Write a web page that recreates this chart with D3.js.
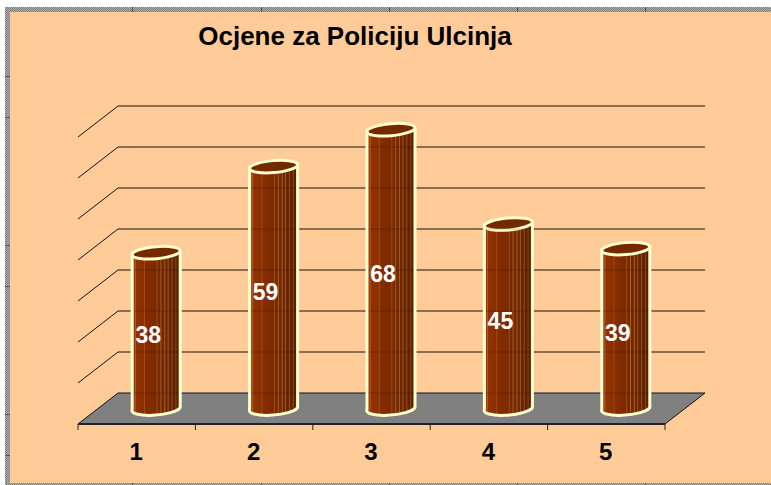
<!DOCTYPE html>
<html>
<head>
<meta charset="utf-8">
<script src="https://cdnjs.cloudflare.com/ajax/libs/d3/7.8.5/d3.min.js"></script>
<style>
html, body { margin: 0; padding: 0; background: #fff; }
svg { display: block; }
</style>
</head>
<body>
<div id="chart"></div>
<script>
var categories = ["1", "2", "3", "4", "5"];
var values = [38, 59, 68, 45, 39];
var grid_values = [0, 10, 20, 30, 40, 50, 60, 70];

// light streaks on the cylinders, as position across the bar (0-1) and colour
var bar_stops = [
    [0, "#8c3208"], [0.05, "#9a3c0c"], [0.07, "#b05a20"], [0.09, "#923204"], [0.24, "#8a2e00"],
    [0.26, "#a04c18"], [0.28, "#862c00"], [0.50, "#7c2a00"], [0.52, "#9a4c1c"], [0.54, "#7a2a00"],
    [0.58, "#782900"], [0.60, "#a25c2c"], [0.62, "#762800"], [0.66, "#742800"], [0.68, "#a4602e"],
    [0.70, "#702700"], [0.73, "#6e2600"], [0.75, "#9c5a2c"], [0.77, "#6a2500"], [0.81, "#682400"],
    [0.83, "#925028"], [0.85, "#642300"], [0.89, "#622200"], [0.91, "#844622"], [0.93, "#5e2100"],
    [1, "#5a2000"]
];

const width = 771, height = 485;
const plot = {left: 78, right: 665, front: 424, back: 393, top: 106, depth_x: 40};

var svg = d3.select("#chart").append("svg")
    .attr("width", width)
    .attr("height", height);

var defs = svg.append("defs");

var grad = defs.append("linearGradient")
    .attr("id", "bar-fill")
    .attr("x1", 0).attr("x2", 1).attr("y1", 0).attr("y2", 0);
bar_stops.forEach(function(d){
    grad.append("stop").attr("offset", d[0]).attr("stop-color", d[1]);
});

// dithered grey frame
var frame_pat = defs.append("pattern")
    .attr("id", "frame-dots")
    .attr("width", 2).attr("height", 2)
    .attr("patternUnits", "userSpaceOnUse");
frame_pat.append("rect").attr("width", 2).attr("height", 2).attr("fill", "#b0b0b0");
frame_pat.append("rect").attr("width", 1).attr("height", 1).attr("fill", "#7c7c7c");
frame_pat.append("rect").attr("x", 1).attr("y", 1).attr("width", 1).attr("height", 1).attr("fill", "#7c7c7c");

svg.append("rect").attr("x", 5).attr("y", 7).attr("width", 766).attr("height", 478)
    .attr("fill", "url(#frame-dots)");
svg.append("rect").attr("x", 10).attr("y", 12).attr("width", 761).attr("height", 471)
    .attr("fill", "#ffcc99");

// small frame ticks
[76.5, 117.5, 245.5, 286.5, 414.5, 455.5].forEach(function(y){
    svg.append("line").attr("x1", 5).attr("x2", 10).attr("y1", y).attr("y2", y)
        .attr("stroke", "#555");
});
[132.5, 261.5, 389.5, 517.5, 645.5].forEach(function(x){
    svg.append("line").attr("x1", x).attr("x2", x).attr("y1", 7).attr("y2", 12)
        .attr("stroke", "#555");
    svg.append("line").attr("x1", x).attr("x2", x).attr("y1", 483).attr("y2", 485)
        .attr("stroke", "#555");
});

var x = d3.scaleBand().domain(categories).range([plot.left, plot.right]);
var y = d3.scaleLinear().domain([0, 70]).range([plot.back, plot.top]);
const drop = plot.front - plot.back;

// floor
svg.append("path")
    .attr("d", d3.line()([
        [plot.left, plot.front], [plot.right, plot.front],
        [plot.right + plot.depth_x, plot.back], [plot.left + plot.depth_x, plot.back]
    ]) + "Z")
    .attr("fill", "#808080");

var grid = svg.append("g");
grid_values.forEach(function(d){
    if(d == 0) return;
    grid.append("line")
        .attr("x1", plot.left + plot.depth_x).attr("x2", plot.right + plot.depth_x)
        .attr("y1", y(d)).attr("y2", y(d))
        .attr("stroke", "#1a1208")
        .attr("stroke-width", 1.2);
    grid.append("line")
        .attr("x1", plot.left).attr("x2", plot.left + plot.depth_x)
        .attr("y1", y(d) + drop).attr("y2", y(d))
        .attr("stroke", "#111");
});
svg.append("line")
    .attr("x1", plot.left + plot.depth_x).attr("x2", plot.right + plot.depth_x)
    .attr("y1", plot.back).attr("y2", plot.back)
    .attr("stroke", "#111");
svg.append("line")
    .attr("x1", plot.left).attr("x2", plot.left + plot.depth_x)
    .attr("y1", plot.front).attr("y2", plot.back)
    .attr("stroke", "#111");
svg.append("line")
    .attr("x1", plot.right).attr("x2", plot.right + plot.depth_x)
    .attr("y1", plot.front).attr("y2", plot.back)
    .attr("stroke", "#111");

// cylinders
const bar_w = 48, ry = 6.5;
const base_y = plot.back + drop/2 + 1;
const bar_dx = plot.depth_x/2 - 0.5;
var bars = svg.selectAll(".bar")
    .data(values)
    .enter()
    .append("g")
    .attr("class", "bar")
    .attr("transform", (d, i) => "translate(" + (x(categories[i]) + x.bandwidth()/2 + bar_dx) + ",0)");

bars.append("path")
    .attr("d", function(d){
        const top = base_y - (y(0) - y(d));
        return "M" + (-bar_w/2) + "," + top +
            "L" + (-bar_w/2) + "," + base_y +
            "A" + (bar_w/2) + "," + ry + " -5 0 0 " + (bar_w/2) + "," + (base_y - 2) +
            "L" + (bar_w/2) + "," + (top - 2) + "Z";
    })
    .attr("fill", "url(#bar-fill)")
    .attr("stroke", "#ffffcc")
    .attr("stroke-width", 3);

bars.append("ellipse")
    .attr("cx", 0)
    .attr("cy", d => base_y - (y(0) - y(d)) - 1)
    .attr("rx", bar_w/2)
    .attr("ry", ry - 0.5)
    .attr("transform", d => "rotate(-5 0 " + (base_y - (y(0) - y(d)) - 1) + ")")
    .attr("fill", "#752900")
    .attr("stroke", "#ffffcc")
    .attr("stroke-width", 3);

// faint lines showing through the bars
var ghost = svg.append("g");
values.forEach(function(v, i){
    const cx = x(categories[i]) + x.bandwidth()/2 + bar_dx;
    grid_values.forEach(function(d){
        if(d >= v) return;
        ghost.append("line")
            .attr("x1", cx - bar_w/2 + 1.5).attr("x2", cx + bar_w/2 - 1.5)
            .attr("y1", y(d)).attr("y2", y(d))
            .attr("stroke", "#000").attr("stroke-opacity", 0.22);
    });
});

// front axis and ticks
svg.append("line")
    .attr("x1", plot.left).attr("x2", plot.right)
    .attr("y1", plot.front).attr("y2", plot.front)
    .attr("stroke", "#222").attr("stroke-width", 2);

x.domain().concat(["end"]).forEach(function(d, i){
    const tx = plot.left + i*x.bandwidth();
    svg.append("line")
        .attr("x1", tx).attr("x2", tx)
        .attr("y1", plot.front).attr("y2", plot.front + 6)
        .attr("stroke", "#222");
});

svg.selectAll(".cat")
    .data(categories)
    .enter()
    .append("text")
    .attr("class", "cat")
    .attr("x", d => x(d) + x.bandwidth()/2 - 0.5)
    .attr("y", 460)
    .attr("text-anchor", "middle")
    .attr("font-family", "'Liberation Sans', Arial, sans-serif")
    .attr("font-weight", "bold")
    .attr("font-size", "24px")
    .attr("fill", "#000")
    .text(d => d);

// value labels sit at mid height of the bars
svg.selectAll(".val")
    .data(values)
    .enter()
    .append("text")
    .attr("class", "val")
    .attr("x", (d, i) => x(categories[i]) + x.bandwidth()/2 + 11.5)
    .attr("y", d => y(d/2) + 15 + 13)
    .attr("text-anchor", "middle")
    .attr("font-family", "'Liberation Sans', Arial, sans-serif")
    .attr("font-weight", "bold")
    .attr("font-size", "23px")
    .attr("fill", "#fff")
    .text(d => d);

svg.append("text")
    .attr("x", 355)
    .attr("y", 45)
    .attr("text-anchor", "middle")
    .attr("font-family", "'Liberation Sans', Arial, sans-serif")
    .attr("font-weight", "bold")
    .attr("font-size", "26px")
    .attr("fill", "#000")
    .text("Ocjene za Policiju Ulcinja");
</script>
</body>
</html>
